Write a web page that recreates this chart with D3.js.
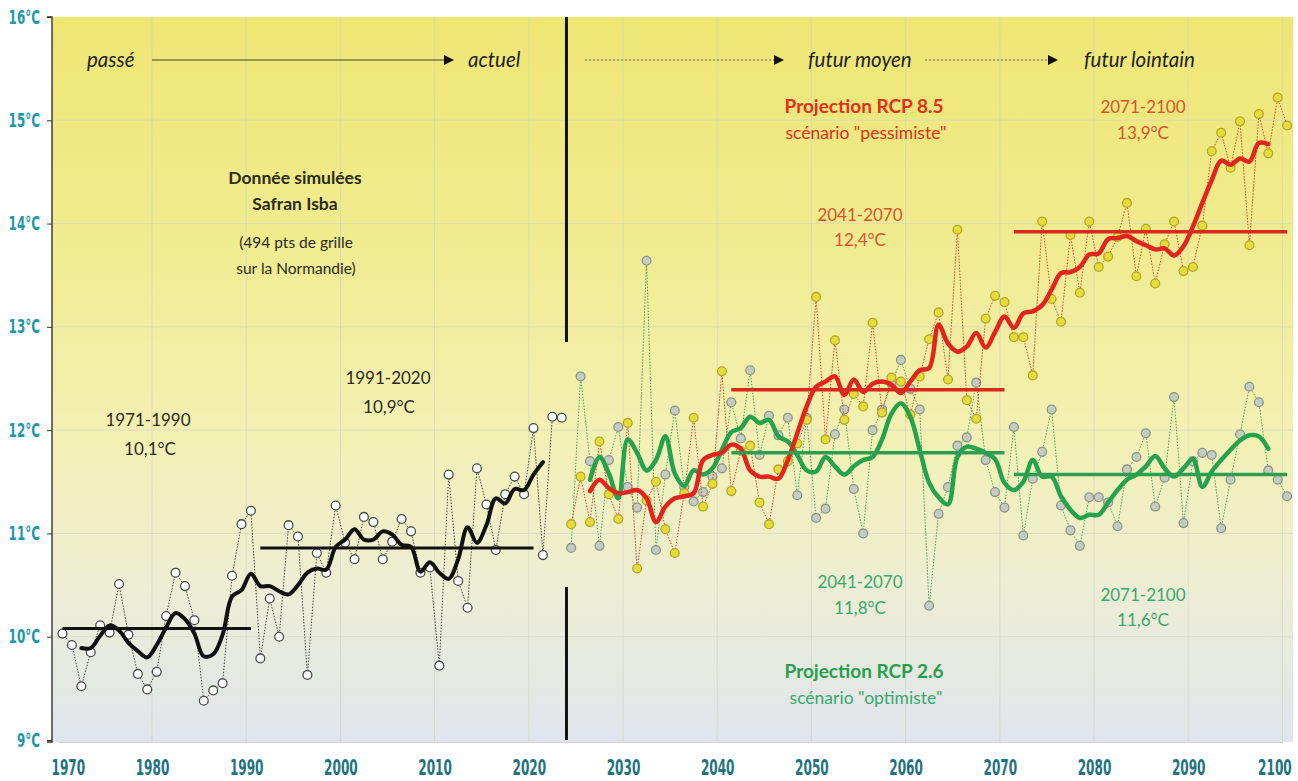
<!DOCTYPE html>
<html>
<head>
<meta charset="utf-8">
<script src="https://cdn.jsdelivr.net/npm/d3@7"></script>
<style>
  body { margin: 0; background: #fff; }
  text { font-family: Lato, "Open Sans", sans-serif; }
</style>
</head>
<body>
<div id="chart"></div>
<script>
// observed data, Normandie annual mean temperature (°C)
const pastStart = 1970;
const past = [
  10.03, 9.92, 9.52, 9.85, 10.11, 10.04, 10.51, 10.02, 9.64, 9.49,
  9.66, 10.20, 10.62, 10.49, 10.16, 9.38, 9.48, 9.55, 10.59, 11.09,
  11.22, 9.79, 10.37, 10.00, 11.08, 10.97, 9.63, 10.81, 10.62, 11.27,
  10.91, 10.75, 11.16, 11.11, 10.75, 10.92, 11.14, 11.02, 10.62, 10.67,
  9.72, 11.57, 10.54, 10.28, 11.63, 11.28, 10.84, 11.38, 11.55, 11.38,
  12.02, 10.79, 12.13, 12.12
];
// smoothed curve, 1972-2021
const pastSmoothStart = 1972;
const pastSmooth = [
  9.89, 9.89, 10.01, 10.11, 10.06, 9.94, 9.86, 9.80, 9.92, 10.09,
  10.23, 10.17, 10.03, 9.81, 9.83, 10.02, 10.39, 10.45, 10.61, 10.49,
  10.49, 10.44, 10.41, 10.50, 10.62, 10.66, 10.65, 10.87, 10.94, 11.04,
  10.94, 10.94, 11.02, 10.99, 10.89, 10.87, 10.63, 10.72, 10.62, 10.56,
  10.75, 11.06, 10.91, 11.08, 11.34, 11.29, 11.43, 11.42, 11.57, 11.69
];

// projections 2024-2100
const futStart = 2024;
const rcp85 = [
  11.09, 11.55, 11.11, 11.89, 11.38, 11.14, 12.07, 10.66, 11.32, 11.50,
  11.04, 10.81, 11.39, 12.12, 11.26, 11.48, 12.57, 11.41, 11.80, 11.85,
  11.30, 11.09, 11.62, 11.70, 11.87, 12.10, 13.29, 11.91, 12.87, 12.10,
  12.35, 12.23, 13.04, 12.17, 12.51, 12.47, 12.15, 12.52, 12.88, 13.14,
  12.49, 13.94, 12.29, 12.11, 13.08, 13.30, 13.24, 12.90, 12.90, 12.53,
  14.02, 13.27, 13.05, 13.89, 13.33, 14.02, 13.58, 13.68, 13.87, 14.20,
  13.49, 13.95, 13.42, 13.80, 14.02, 13.54, 13.58, 13.98, 14.70, 14.88,
  14.54, 14.99, 13.79, 15.06, 14.68, 15.22, 14.95
];
const rcp26 = [
  10.86, 12.52, 11.70, 10.88, 11.71, 12.03, 11.45, 11.25, 13.64, 10.84,
  11.57, 12.19, 11.45, 11.31, 11.40, 11.55, 11.63, 12.27, 11.92, 12.58,
  11.76, 12.14, 11.95, 12.12, 11.37, 12.12, 11.15, 11.24, 11.96, 12.20,
  11.43, 11.00, 12.00, 12.20, 12.45, 12.68, 12.40, 12.20, 10.30, 11.19,
  11.45, 11.85, 11.93, 12.46, 11.71, 11.40, 11.25, 12.03, 10.98, 11.53,
  11.79, 12.20, 11.27, 11.03, 10.88, 11.35, 11.35, 11.30, 11.07, 11.62,
  11.74, 11.97, 11.26, 11.54, 12.32, 11.10, 11.70, 11.78, 11.76, 11.05,
  11.52, 11.96, 12.42, 12.27, 11.61, 11.52, 11.36
];
// smoothed projection curves, 2026-2098
const futSmoothStart = 2026;
const rcp85Smooth = [
  11.41, 11.52, 11.44, 11.39, 11.40, 11.42, 11.34, 11.11, 11.26, 11.34,
  11.36, 11.39, 11.71, 11.76, 11.78, 11.86, 11.82, 11.61, 11.55, 11.55,
  11.53, 11.71, 11.97, 12.23, 12.42, 12.47, 12.52, 12.34, 12.49, 12.37,
  12.45, 12.47, 12.44, 12.36, 12.47, 12.58, 12.60, 13.02, 12.84, 12.76,
  12.81, 12.94, 12.80, 12.95, 13.10, 12.99, 13.13, 13.15, 13.21, 13.36,
  13.52, 13.53, 13.58, 13.70, 13.71, 13.85, 13.86, 13.88, 13.83, 13.79,
  13.75, 13.76, 13.69, 13.78, 13.97, 14.20, 14.42, 14.61, 14.57, 14.63,
  14.60, 14.78, 14.77
];
const rcp26Smooth = [
  11.52, 11.74, 11.58, 11.34, 11.91, 11.78, 11.61, 11.71, 11.94, 11.58,
  11.46, 11.61, 11.57, 11.63, 11.81, 11.98, 12.02, 12.13, 12.07, 12.10,
  11.94, 11.89, 11.76, 11.61, 11.60, 11.74, 11.65, 11.57, 11.65, 11.71,
  11.74, 11.91, 12.16, 12.26, 12.13, 11.81, 11.49, 11.35, 11.28, 11.74,
  11.84, 11.82, 11.78, 11.72, 11.49, 11.42, 11.50, 11.71, 11.55, 11.55,
  11.36, 11.23, 11.15, 11.18, 11.18, 11.30, 11.42, 11.52, 11.57, 11.65,
  11.75, 11.63, 11.55, 11.63, 11.72, 11.45, 11.60, 11.71, 11.81, 11.90,
  11.95, 11.94, 11.82
];

// period means
const pastMeans = [{from: 1970, to: 1990, v: 10.08}, {from: 1991, to: 2020, v: 10.86}];
const rcp85Means = [{from: 2041, to: 2070, v: 12.39}, {from: 2071, to: 2100, v: 13.92}];
const rcp26Means = [{from: 2041, to: 2070, v: 11.78}, {from: 2071, to: 2100, v: 11.57}];

const yTicks = [9, 10, 11, 12, 13, 14, 15, 16];
const xTicks = [1970, 1980, 1990, 2000, 2010, 2020, 2030, 2040, 2050, 2060, 2070, 2080, 2090, 2100];
const splitYear = 2023.5;

const width = 1298, height = 781;
const plot = {left: 52, right: 1293, top: 17, bottom: 742};

const x = d3.scaleLinear().domain([1970, 2100]).range([62.5, 1287.1]);
const xEdge = d3.scaleLinear().domain([1970, 2100]).range([x(1969.5), x(2099.5)]);
const y = d3.scaleLinear().domain([9, 16]).range([740, 17]);

const toPts = (arr, start) => arr.map((v, i) => ({year: start + i, v: v}));

const svg = d3.select("#chart").append("svg")
    .attr("width", width)
    .attr("height", height);

const defs = svg.append("defs");
const grad = defs.append("linearGradient")
    .attr("id", "bg").attr("x1", 0).attr("x2", 0).attr("y1", 0).attr("y2", 1);
[["0%", "#eee672"], ["35%", "#f1ec94"], ["58%", "#f3f0b4"], ["78%", "#edeed3"], ["100%", "#e0e5ed"]]
  .forEach(s => grad.append("stop").attr("offset", s[0]).attr("stop-color", s[1]));

defs.append("marker")
    .attr("id", "head")
    .attr("viewBox", "0 -5 10 10")
    .attr("refX", 2).attr("refY", 0)
    .attr("markerWidth", 10).attr("markerHeight", 10)
    .attr("markerUnits", "userSpaceOnUse")
    .attr("orient", "auto")
    .append("path").attr("d", "M0,-5L10,0L0,5Z").attr("fill", "#111");

svg.append("rect")
    .attr("x", plot.left).attr("y", plot.top)
    .attr("width", plot.right - plot.left).attr("height", plot.bottom - plot.top)
    .attr("fill", "url(#bg)");

// grid
svg.append("g").selectAll("line").data(xTicks.slice(1)).enter().append("line")
    .attr("x1", d => xEdge(d)).attr("x2", d => xEdge(d))
    .attr("y1", plot.top).attr("y2", plot.bottom)
    .attr("stroke", "#d4d4c4").attr("stroke-opacity", 0.7).attr("stroke-width", 1);
svg.append("g").selectAll("line").data(yTicks.slice(1, -1)).enter().append("line")
    .attr("x1", plot.left).attr("x2", plot.right)
    .attr("y1", d => y(d)).attr("y2", d => y(d))
    .attr("stroke", "#d6d6c4").attr("stroke-opacity", 0.7).attr("stroke-width", 1);

// separator past / future
[[plot.top, 342], [587, plot.bottom - 2]].forEach(seg => {
  svg.append("line")
      .attr("x1", x(splitYear)).attr("x2", x(splitYear))
      .attr("y1", seg[0]).attr("y2", seg[1])
      .attr("stroke", "#111").attr("stroke-width", 3);
});

const line = d3.line().x(d => x(d.year)).y(d => y(d.v));
const smooth = d3.line().x(d => x(d.year)).y(d => y(d.v)).curve(d3.curveCatmullRom.alpha(0.5));

function series(data, start, lineColor, fill, stroke) {
  const pts = toPts(data, start);
  svg.append("path").datum(pts)
      .attr("d", line).attr("fill", "none")
      .attr("stroke", lineColor).attr("stroke-width", 1)
      .attr("stroke-dasharray", "1.5,1.5");
  svg.append("g").selectAll("circle").data(pts).enter().append("circle")
      .attr("cx", d => x(d.year)).attr("cy", d => y(d.v)).attr("r", 4.4)
      .attr("fill", fill).attr("stroke", stroke).attr("stroke-width", 1.3);
}
series(past, pastStart, "#444", "#fff", "#4a4a4a");
series(rcp26, futStart, "#3aa860", "#c6cbbf", "#8a958a");
series(rcp85, futStart, "#e0402a", "#e4dc3a", "#b3a626");

function smoothLine(data, start, color, w) {
  svg.append("path").datum(toPts(data, start))
      .attr("d", smooth).attr("fill", "none")
      .attr("stroke", color).attr("stroke-width", w)
      .attr("stroke-linejoin", "round").attr("stroke-linecap", "round");
}
smoothLine(pastSmooth, pastSmoothStart, "#111", 4);
smoothLine(rcp26Smooth, futSmoothStart, "#25a24c", 4.5);
smoothLine(rcp85Smooth, futSmoothStart, "#e3241c", 4.5);

function means(list, color, w) {
  svg.append("g").selectAll("line").data(list).enter().append("line")
      .attr("x1", d => x(d.from)).attr("x2", d => x(d.to))
      .attr("y1", d => y(d.v)).attr("y2", d => y(d.v))
      .attr("stroke", color).attr("stroke-width", w);
}
means(pastMeans, "#111", 3);
means(rcp26Means, "#2c9e50", 3.5);
means(rcp85Means, "#d8291e", 3.5);

// left axis
const yAxis = svg.append("g")
    .attr("transform", `translate(${plot.left},0)`)
    .call(d3.axisLeft(y).tickValues(yTicks).tickSize(5).tickFormat(d => d + "°C"));
yAxis.select(".domain").attr("stroke", "#333").attr("stroke-width", 1.4)
    .attr("d", `M-5,${y(16)}H0V${plot.bottom}H-5`);
yAxis.selectAll(".tick line").attr("stroke", "#333");
yAxis.selectAll(".tick text")
    .attr("x", 0).attr("dy", null).attr("y", 0)
    .attr("transform", "translate(-12,6) scale(0.7,1)")
    .attr("fill", "#1c9aab")
    .style("font-family", "'Liberation Sans Narrow', 'DejaVu Sans Condensed', sans-serif")
    .style("font-weight", "bold").style("font-size", "19px")
    .attr("text-anchor", "end");

// bottom axis
const lastTick = xTicks.length - 1;
const xAxis = svg.append("g")
    .attr("transform", `translate(0,${plot.bottom})`)
    .call(d3.axisBottom(xEdge).tickValues(xTicks).tickSize(0).tickFormat(d3.format("d")));
xAxis.select(".domain").attr("stroke", "#d0d4da").attr("stroke-width", 1);
xAxis.selectAll(".tick text")
    .attr("y", 0).attr("dy", null)
    .attr("transform", (d, i) => {
      const shift = i === 0 ? 10 : (i === lastTick ? -8 : 0);
      return `translate(${shift},33) scale(0.64,1)`;
    })
    .attr("fill", "#1e7480")
    .style("font-family", "'Liberation Sans Narrow', 'DejaVu Sans Condensed', sans-serif")
    .style("font-weight", "bold").style("font-size", "21px");

// header timeline
const header = [
  {t: "passé", x: 87}, {t: "actuel", x: 468},
  {t: "futur moyen", x: 808}, {t: "futur lointain", x: 1084}
];
svg.append("g").selectAll("text").data(header).enter().append("text")
    .attr("x", d => d.x).attr("y", 67)
    .style("font-style", "italic").style("font-size", "20.5px")
    .attr("fill", "#222").text(d => d.t);
const arrows = [
  {x1: 152, x2: 446, dash: null, c: "#77774e"},
  {x1: 585, x2: 776, dash: "2,2", c: "#8c8c6a"},
  {x1: 925, x2: 1050, dash: "2,2", c: "#8c8c6a"}
];
svg.append("g").selectAll("line").data(arrows).enter().append("line")
    .attr("x1", d => d.x1).attr("x2", d => d.x2)
    .attr("y1", 60).attr("y2", 60)
    .attr("stroke", d => d.c).attr("stroke-width", 1.5)
    .attr("stroke-dasharray", d => d.dash)
    .attr("marker-end", "url(#head)");

// annotations
const dark = "#2b2b1e", red = "#e2301c", redSoft = "#d9542c", green = "#26a04c", greenSoft = "#3aa86e";
const notes = [
  {t: "Donnée simulées", x: 295, y: 184, s: 17.5, w: "bold", c: dark},
  {t: "Safran Isba", x: 295, y: 210, s: 17.5, w: "bold", c: dark},
  {t: "(494 pts de grille", x: 296, y: 248, s: 15.5, c: dark},
  {t: "sur la Normandie)", x: 296, y: 274, s: 15.5, c: dark},
  {t: "1971-1990", x: 148, y: 426, s: 17, c: dark},
  {t: "10,1°C", x: 150, y: 455, s: 17, c: dark},
  {t: "1991-2020", x: 388, y: 384, s: 17, c: dark},
  {t: "10,9°C", x: 389, y: 413, s: 17, c: dark},
  {t: "Projection RCP 8.5", x: 864, y: 113, s: 19, w: "bold", c: red},
  {t: "scénario \"pessimiste\"", x: 866, y: 139, s: 17.5, c: red},
  {t: "2071-2100", x: 1143, y: 113, s: 17, c: redSoft},
  {t: "13,9°C", x: 1143, y: 139, s: 17, c: redSoft},
  {t: "2041-2070", x: 860, y: 221, s: 17, c: redSoft},
  {t: "12,4°C", x: 860, y: 246, s: 17, c: redSoft},
  {t: "2041-2070", x: 860, y: 588, s: 17, c: greenSoft},
  {t: "11,8°C", x: 860, y: 614, s: 17, c: greenSoft},
  {t: "2071-2100", x: 1143, y: 601, s: 17, c: greenSoft},
  {t: "11,6°C", x: 1143, y: 626, s: 17, c: greenSoft},
  {t: "Projection RCP 2.6", x: 864, y: 678, s: 19, w: "bold", c: green},
  {t: "scénario \"optimiste\"", x: 866, y: 704, s: 17.5, c: greenSoft}
];
svg.append("g").selectAll("text").data(notes).enter().append("text")
    .attr("x", d => d.x).attr("y", d => d.y)
    .attr("text-anchor", "middle")
    .style("font-size", d => d.s + "px")
    .style("font-weight", d => d.w || "normal")
    .attr("fill", d => d.c)
    .text(d => d.t);
</script>
</body>
</html>
